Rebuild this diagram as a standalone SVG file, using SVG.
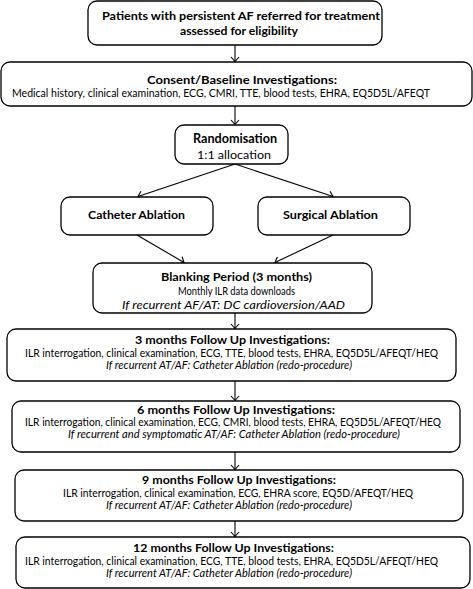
<svg xmlns="http://www.w3.org/2000/svg" width="473" height="589" viewBox="0 0 473 589">
<style>
  .box { fill: #ffffff; stroke: #000000; stroke-width: 1.3; }
  text { font-family: Lato, "Liberation Sans", sans-serif; fill: #000000; text-anchor: middle; }
  .t { font-weight: bold; font-size: 12px; }
  .f { font-weight: bold; font-size: 11px; }
  .b { font-size: 10.5px; }
  .i { font-size: 10.5px; font-style: italic; }
  .conn line { stroke: #000000; stroke-width: 1.1; fill: none; marker-end: url(#arr); }
</style>
<defs>
  <marker id="arr" markerUnits="userSpaceOnUse" viewBox="-6 -5 7 10" refX="0" refY="0" markerWidth="7" markerHeight="10" orient="auto">
    <path d="M-4.5,-4 L0,0 L-4.5,4" fill="none" stroke="#000000" stroke-width="1.1"/>
  </marker>
</defs>
<rect width="473" height="589" fill="#ffffff"/>

<g class="conn" id="connectors">
  <line x1="235" y1="45" x2="235" y2="61.5"/>
  <line x1="235" y1="106" x2="235" y2="124.5"/>
  <line x1="235" y1="164" x2="138" y2="196.5"/>
  <line x1="235" y1="164" x2="333" y2="196.5"/>
  <line x1="137" y1="235" x2="184" y2="262.5"/>
  <line x1="333" y1="235" x2="275" y2="262.5"/>
  <line x1="235" y1="313" x2="235" y2="328.5"/>
  <line x1="235" y1="381" x2="235" y2="400.5"/>
  <line x1="235" y1="452" x2="235" y2="469.5"/>
  <line x1="235" y1="521" x2="235" y2="536.5"/>
</g>

<g id="n-patients">
  <rect class="box" x="88" y="1" width="294" height="44" rx="9"/>
  <text class="t" x="241" y="20" textLength="278" lengthAdjust="spacingAndGlyphs">Patients with persistent AF referred for treatment</text>
  <text class="t" x="239" y="35" textLength="118" lengthAdjust="spacingAndGlyphs">assessed for eligibility</text>
</g>

<g id="n-consent">
  <rect class="box" x="1" y="62" width="471" height="44" rx="9"/>
  <text class="t" x="242" y="84" textLength="190" lengthAdjust="spacingAndGlyphs">Consent/Baseline Investigations:</text>
  <text class="b" x="221" y="97" textLength="418" lengthAdjust="spacingAndGlyphs">Medical history, clinical examination, ECG, CMRI, TTE, blood tests, EHRA, EQ5D5L/AFEQT</text>
</g>

<g id="n-random">
  <rect class="box" x="175" y="125" width="113" height="39" rx="9"/>
  <text class="t" x="235" y="143" style="font-size:13px" textLength="84" lengthAdjust="spacingAndGlyphs">Randomisation</text>
  <text class="b" x="234" y="159" style="font-size:12px" textLength="74" lengthAdjust="spacingAndGlyphs">1:1 allocation</text>
</g>

<g id="n-catheter">
  <rect class="box" x="61" y="197" width="152" height="38" rx="9"/>
  <text class="t" x="136.5" y="219" textLength="97" lengthAdjust="spacingAndGlyphs">Catheter Ablation</text>
</g>

<g id="n-surgical">
  <rect class="box" x="258" y="197" width="152" height="38" rx="9"/>
  <text class="t" x="330.5" y="219" textLength="95" lengthAdjust="spacingAndGlyphs">Surgical Ablation</text>
</g>

<g id="n-blanking">
  <rect class="box" x="93" y="263" width="279" height="50" rx="9"/>
  <text class="t" x="236.5" y="281" textLength="151" lengthAdjust="spacingAndGlyphs">Blanking Period (3 months)</text>
  <text class="b" x="236.5" y="295" style="font-size:11px" textLength="117" lengthAdjust="spacingAndGlyphs">Monthly ILR data downloads</text>
  <text class="i" x="233.5" y="309" textLength="223" lengthAdjust="spacingAndGlyphs">If recurrent AF/AT: DC cardioversion/AAD</text>
</g>

<g id="n-3m">
  <rect class="box" x="7" y="329" width="449" height="52" rx="9"/>
  <text class="f" x="232.5" y="344" textLength="195" lengthAdjust="spacingAndGlyphs">3 months Follow Up Investigations:</text>
  <text class="b" x="231.5" y="357" textLength="413" lengthAdjust="spacingAndGlyphs">ILR interrogation, clinical examination, ECG, TTE, blood tests, EHRA, EQ5D5L/AFEQT/HEQ</text>
  <text class="i" x="229" y="369" textLength="246" lengthAdjust="spacingAndGlyphs">If recurrent AT/AF: Catheter Ablation (redo-procedure)</text>
</g>

<g id="n-6m">
  <rect class="box" x="12" y="401" width="448" height="51" rx="9"/>
  <text class="f" x="236" y="414" textLength="198" lengthAdjust="spacingAndGlyphs">6 months Follow Up Investigations:</text>
  <text class="b" x="233" y="426" textLength="416" lengthAdjust="spacingAndGlyphs">ILR interrogation, clinical examination, ECG, CMRI, blood tests, EHRA, EQ5D5L/AFEQT/HEQ</text>
  <text class="i" x="234" y="438" textLength="332" lengthAdjust="spacingAndGlyphs">If recurrent and symptomatic AT/AF: Catheter Ablation (redo-procedure)</text>
</g>

<g id="n-9m">
  <rect class="box" x="15" y="470" width="448" height="51" rx="9"/>
  <text class="f" x="239" y="484" textLength="194" lengthAdjust="spacingAndGlyphs">9 months Follow Up Investigations:</text>
  <text class="b" x="238" y="497" textLength="350" lengthAdjust="spacingAndGlyphs">ILR interrogation, clinical examination, ECG, EHRA score, EQ5D/AFEQT/HEQ</text>
  <text class="i" x="229" y="509" textLength="246" lengthAdjust="spacingAndGlyphs">If recurrent AT/AF: Catheter Ablation (redo-procedure)</text>
</g>

<g id="n-12m">
  <rect class="box" x="16" y="537" width="454" height="51" rx="9"/>
  <text class="f" x="233.5" y="552" textLength="201" lengthAdjust="spacingAndGlyphs">12 months Follow Up Investigations:</text>
  <text class="b" x="231.5" y="565" textLength="413" lengthAdjust="spacingAndGlyphs">ILR interrogation, clinical examination, ECG, TTE, blood tests, EHRA, EQ5D5L/AFEQT/HEQ</text>
  <text class="i" x="229" y="577" textLength="246" lengthAdjust="spacingAndGlyphs">If recurrent AT/AF: Catheter Ablation (redo-procedure)</text>
</g>
</svg>
